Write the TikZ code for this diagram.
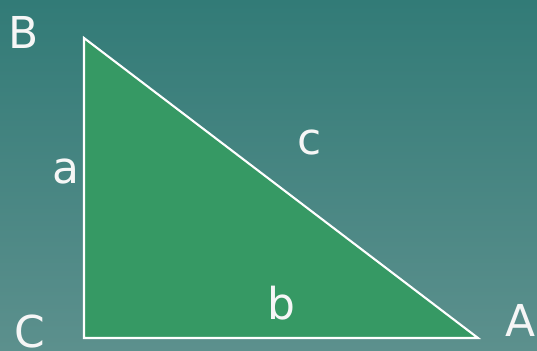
\documentclass[tikz,border=0pt]{standalone}
\usepackage{fontspec}
\setmainfont{DejaVu Sans}
\usepackage{xcolor}
\usetikzlibrary{positioning}
\definecolor{bgtop}{HTML}{327B77}
\definecolor{bgbottom}{HTML}{5C908D}
\definecolor{trigreen}{HTML}{369964}

\begin{document}
\begin{tikzpicture}[every node/.style={font=\fontsize{25}{28}\selectfont, text=white!93!gray}]
  \tikzstyle{lbl} = [inner sep=0pt, anchor=center]
  \tikzstyle{tri} = [draw=white, line width=1.2pt, fill=trigreen, line join=miter]

  % background
  \shade[top color=bgtop, bottom color=bgbottom] (0,0) rectangle (10.74,7);
  \useasboundingbox (0,0) rectangle (10.74,7);

  % corners
  \coordinate (B) at (1.68,6.24);
  \coordinate (C) at (1.68,0.24);
  \coordinate (A) at (9.56,0.24);

  % triangle
  \draw[tri] (B) -- (C) -- (A) -- cycle;

  % vertex labels
  \node[lbl] (labB) at (0.48,6.36) {B};
  \node[lbl] (labC) at (0.6,0.38) {C};
  \node[lbl] (labA) at (10.42,0.6) {A};

  % side labels
  \node[lbl] (laba) at (1.32,3.56) {a};
  \node[lbl] (labb) at (5.62,0.94) {b};
  \node[lbl] (labc) at (6.2,4.14) {c};
\end{tikzpicture}
\end{document}
